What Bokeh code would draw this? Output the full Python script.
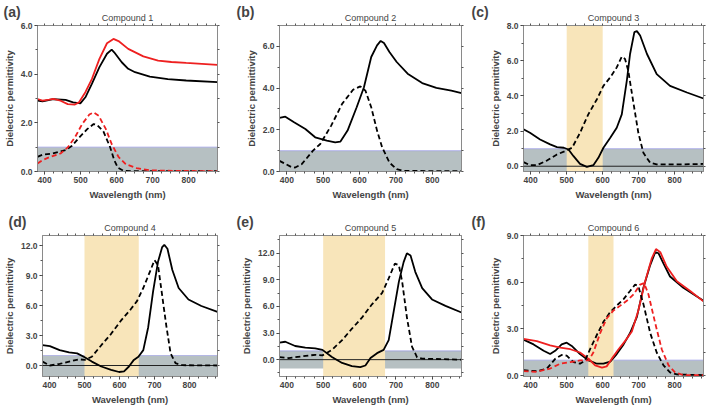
from bokeh.plotting import figure
from bokeh.layouts import column, row
from bokeh.models import (BoxAnnotation, Span, Title, LinearAxis, Range1d,
                          FixedTicker, PrintfTickFormatter)
from bokeh.embed import file_html
from bokeh.resources import INLINE

# ---------------- data ----------------
titles = ["Compound 1", "Compound 2", "Compound 3", "Compound 4", "Compound 5", "Compound 6"]
letters = ["(a)", "(b)", "(c)", "(d)", "(e)", "(f)"]
x_ticks = [400, 500, 600, 700, 800]

# (a) Compound 1
a_wl_re_k = [380, 394, 424, 458, 479, 499, 513, 531, 552, 573, 586, 593, 614, 632, 651, 692, 742, 793, 880]
a_re_k = [2.91, 2.88, 2.97, 2.94, 2.84, 2.80, 3.05, 3.60, 4.29, 4.84, 5.01, 4.90, 4.49, 4.22, 4.08, 3.90, 3.80, 3.74, 3.67]
a_wl_re_r = [380, 394, 412, 424, 444, 464, 484, 495, 513, 531, 552, 573, 591, 605, 632, 674, 715, 752, 793, 880]
a_re_r = [2.98, 2.91, 2.95, 2.98, 2.91, 2.77, 2.75, 2.84, 3.26, 3.80, 4.63, 5.27, 5.45, 5.36, 5.04, 4.73, 4.56, 4.50, 4.46, 4.38]
a_wl_im_k = [380, 394, 421, 458, 476, 496, 518, 536, 545, 563, 582, 593, 603, 619, 650, 750, 880]
a_im_k = [0.60, 0.69, 0.74, 0.88, 1.06, 1.40, 1.74, 1.95, 1.92, 1.65, 0.99, 0.47, 0.16, 0.03, 0.01, 0.01, 0.01]
a_wl_im_r = [380, 394, 412, 444, 464, 484, 504, 524, 536, 550, 570, 586, 605, 625, 655, 692, 742, 880]
a_im_r = [0.33, 0.47, 0.58, 0.74, 0.99, 1.40, 1.95, 2.34, 2.43, 2.29, 1.74, 1.13, 0.60, 0.30, 0.14, 0.05, 0.03, 0.01]

# (b) Compound 2
b_wl_re = [380, 396, 420, 451, 478, 510, 533, 547, 567, 592, 612, 632, 648, 658, 667, 682, 702, 732, 772, 811, 852, 880]
b_re = [2.57, 2.63, 2.36, 2.04, 1.64, 1.48, 1.40, 1.43, 1.96, 3.08, 4.04, 5.49, 6.05, 6.26, 6.16, 5.73, 5.25, 4.69, 4.24, 4.01, 3.88, 3.76]
b_wl_im = [380, 392, 412, 423, 441, 472, 492, 522, 552, 582, 602, 616, 632, 648, 662, 682, 702, 722, 800, 880]
b_im = [0.51, 0.40, 0.22, 0.19, 0.35, 1.00, 1.32, 2.20, 3.24, 3.92, 4.08, 3.88, 3.08, 1.96, 1.16, 0.43, 0.11, 0.03, 0.02, 0.02]

# (c) Compound 3
c_wl_re = [380, 398, 426, 454, 473, 492, 505, 519, 537, 556, 574, 588, 602, 621, 639, 653, 667, 676, 688, 695, 704, 723, 750, 787, 834, 880]
c_re = [2.10, 1.90, 1.52, 1.24, 1.09, 1.05, 0.95, 0.57, 0.13, -0.04, 0.06, 0.48, 1.05, 1.62, 2.19, 2.95, 4.86, 6.38, 7.62, 7.68, 7.43, 6.38, 5.24, 4.57, 4.19, 3.85]
c_wl_im = [380, 398, 417, 445, 473, 496, 515, 537, 560, 584, 602, 621, 639, 653, 662, 671, 686, 699, 713, 732, 750, 800, 880]
c_im = [0.23, 0.06, 0.06, 0.32, 0.67, 0.86, 1.05, 1.90, 2.95, 3.81, 4.57, 5.05, 5.62, 6.23, 6.10, 5.43, 3.52, 1.90, 0.76, 0.19, 0.10, 0.10, 0.13]

# (d) Compound 4
d_wl_re = [380, 401, 429, 456, 479, 498, 521, 548, 576, 599, 613, 627, 641, 654, 668, 682, 696, 710, 722, 728, 737, 751, 769, 797, 834, 880]
d_re = [2.03, 1.93, 1.54, 1.31, 1.21, 0.88, 0.39, -0.10, -0.43, -0.65, -0.59, -0.10, 0.56, 0.88, 1.54, 3.83, 7.42, 10.37, 11.84, 12.07, 11.67, 9.55, 7.75, 6.60, 5.95, 5.36]
d_wl_im = [380, 401, 429, 456, 484, 501, 521, 548, 576, 604, 632, 650, 668, 687, 700, 710, 719, 733, 746, 760, 779, 880]
d_im = [0.39, 0.00, 0.16, 0.39, 0.62, 0.56, 0.88, 2.03, 3.17, 4.48, 5.62, 6.44, 7.75, 9.39, 10.53, 10.04, 7.75, 4.15, 1.21, 0.23, 0.03, 0.00]

# (e) Compound 5
e_wl_re = [380, 396, 423, 451, 478, 498, 524, 552, 579, 602, 616, 630, 648, 666, 680, 694, 708, 721, 730, 740, 753, 772, 799, 836, 880]
e_re = [1.91, 2.02, 1.54, 1.36, 1.28, 1.10, 0.29, -0.37, -0.73, -0.84, -0.66, 0.18, 0.73, 1.10, 2.20, 5.50, 8.80, 11.00, 12.00, 11.74, 9.90, 8.07, 6.79, 6.06, 5.32]
e_wl_im = [380, 405, 441, 478, 498, 524, 552, 579, 607, 634, 662, 680, 697, 708, 717, 730, 744, 758, 772, 880]
e_im = [0.29, 0.18, 0.37, 0.55, 0.48, 1.10, 2.20, 3.49, 4.77, 6.24, 7.52, 9.17, 10.83, 10.64, 8.80, 4.77, 1.47, 0.26, 0.11, 0.00]

# (f) Compound 6
f_wl_re_k = [380, 408, 436, 454, 468, 486, 500, 514, 537, 561, 584, 602, 621, 639, 658, 676, 695, 713, 732, 746, 755, 769, 787, 824, 880]
f_re_k = [2.32, 2.01, 1.60, 1.39, 1.60, 2.01, 2.12, 1.91, 1.39, 0.98, 0.77, 0.77, 0.91, 1.39, 2.01, 2.74, 3.78, 5.64, 7.10, 7.93, 7.86, 7.20, 6.37, 5.64, 4.81]
f_wl_re_r = [380, 417, 454, 482, 510, 537, 561, 579, 598, 611, 625, 644, 662, 681, 699, 718, 736, 748, 760, 778, 806, 843, 880]
f_re_r = [2.37, 2.22, 1.95, 1.80, 1.70, 1.49, 1.08, 0.66, 0.52, 0.60, 1.08, 1.70, 2.22, 2.84, 4.19, 6.06, 7.51, 8.13, 7.93, 6.99, 6.06, 5.44, 4.77]
f_wl_im_k = [380, 417, 445, 468, 486, 500, 519, 537, 551, 565, 584, 602, 621, 639, 658, 676, 690, 699, 713, 732, 750, 769, 787, 806, 880]
f_im_k = [0.35, 0.29, 0.46, 1.08, 1.33, 1.29, 0.87, 0.77, 0.98, 1.70, 2.63, 3.46, 4.09, 4.50, 4.92, 5.44, 5.85, 5.75, 4.61, 2.74, 1.49, 0.66, 0.21, 0.08, 0.04]
f_wl_im_r = [380, 417, 454, 482, 510, 537, 561, 574, 593, 611, 630, 649, 667, 686, 704, 715, 727, 746, 764, 783, 801, 824, 880]
f_im_r = [0.29, 0.25, 0.46, 0.77, 0.87, 0.98, 0.98, 1.49, 2.74, 3.67, 4.19, 4.50, 4.81, 5.23, 5.85, 5.95, 5.23, 3.36, 1.70, 0.66, 0.21, 0.04, 0.04]

# y axes and highlighted windows
y_ranges = [(0, 6), (0, 7), (-0.3, 8), (-1.1, 13), (-1.9, 14), (-0.05, 9)]
y_majors = [[0, 2, 4, 6], [0, 2, 4, 6], [0, 2, 4, 6, 8], [0, 3, 6, 9, 12], [0, 3, 6, 9, 12], [0, 3, 6, 9]]
y_minor_steps = [1, 1, 1, 1.5, 1.5, 1.5]
windows = [None, None, (500, 600), (500, 655), (500, 670), (560, 630)]
band_bottoms = [None, None, None, None, -1, None]
zero_lines = [False, False, True, True, True, False]

series = [
    [(a_wl_re_k, a_re_k, "black", "solid"), (a_wl_re_r, a_re_r, "red", "solid"),
     (a_wl_im_k, a_im_k, "black", "dashed"), (a_wl_im_r, a_im_r, "red", "dashed")],
    [(b_wl_re, b_re, "black", "solid"), (b_wl_im, b_im, "black", "dashed")],
    [(c_wl_re, c_re, "black", "solid"), (c_wl_im, c_im, "black", "dashed")],
    [(d_wl_re, d_re, "black", "solid"), (d_wl_im, d_im, "black", "dashed")],
    [(e_wl_re, e_re, "black", "solid"), (e_wl_im, e_im, "black", "dashed")],
    [(f_wl_re_k, f_re_k, "black", "solid"), (f_wl_re_r, f_re_r, "red", "solid"),
     (f_wl_im_k, f_im_k, "black", "dashed"), (f_wl_im_r, f_im_r, "red", "dashed")],
]

# ---------------- styling / layout ----------------
FONT = "Liberation Sans"
GRAY_BAND = "#b6c0c2"
YELLOW = "#f8e5ba"
FRAME = "#8a8a8a"
RED = "#ee2020"
col_left = [35, 44, 53]
col_right = [18, 9, 5]
col_frame_w = [182, 182, 180]
row_top = [25, 25]
row_frame_h = [146, 143]
row_bottom = [39, 29]
X_MINOR = list(range(375, 900, 25))


def style_axis(ax):
    ax.axis_line_color = FRAME
    ax.major_tick_line_color = "#333333"
    ax.minor_tick_line_color = "#555555"
    ax.major_tick_out = 3
    ax.major_tick_in = 0
    ax.minor_tick_out = 2
    ax.minor_tick_in = 0
    ax.major_label_text_font = FONT
    ax.major_label_text_font_style = "bold"
    ax.major_label_text_font_size = "8.5px"
    ax.major_label_standoff = 2
    ax.axis_label_text_font = FONT
    ax.axis_label_text_font_style = "bold"
    ax.axis_label_text_font_size = "9.5px"
    ax.axis_label_standoff = 3


figs = []
for i in range(6):
    r, c = divmod(i, 3)
    w = col_left[c] + col_frame_w[c] + col_right[c]
    h = row_top[r] + row_frame_h[r] + row_bottom[r]
    y0, y1 = y_ranges[i]
    p = figure(width=w, height=h, output_backend="svg", toolbar_location=None,
               x_range=Range1d(380, 880), y_range=Range1d(y0, y1),
               min_border_left=col_left[c], min_border_right=col_right[c],
               min_border_top=row_top[r], min_border_bottom=row_bottom[r])
    p.grid.visible = False
    p.outline_line_color = FRAME
    p.background_fill_color = "white"

    step = y_minor_steps[i]
    y_minor = []
    v = -3.0
    while v <= y1 + 0.01:
        y_minor.append(round(v, 2))
        v += step

    p.xaxis.ticker = FixedTicker(ticks=x_ticks, minor_ticks=X_MINOR)
    p.yaxis.ticker = FixedTicker(ticks=y_majors[i], minor_ticks=y_minor)
    p.yaxis.formatter = PrintfTickFormatter(format="%.1f")
    p.xaxis.axis_label = "Wavelength (nm)"
    p.yaxis.axis_label = "Dielectric permittivity"
    style_axis(p.xaxis[0])
    style_axis(p.yaxis[0])

    # mirrored tick marks on top and right (no labels)
    top_ax = LinearAxis(ticker=FixedTicker(ticks=[], minor_ticks=sorted(set(X_MINOR) | set(x_ticks))))
    right_ax = LinearAxis(ticker=FixedTicker(ticks=[], minor_ticks=sorted(set(y_minor) | set(y_majors[i]))))
    for ax in (top_ax, right_ax):
        style_axis(ax)
        ax.major_tick_out = 2
    p.add_layout(top_ax, "above")
    p.add_layout(right_ax, "right")

    # titles: compound name (centred) and panel letter (left, overlapping vertically)
    p.add_layout(Title(text=titles[i], align="center", text_font=FONT,
                       text_font_size="9px", text_font_style="normal", standoff=2), "above")
    p.add_layout(Title(text=letters[i], align="left", offset=-(col_left[c] - 1),
                       text_font=FONT, text_font_size="14px", text_font_style="bold",
                       standoff=-20), "above")

    # gray band (epsilon between -1/0 and 1)
    p.add_layout(BoxAnnotation(bottom=band_bottoms[i], top=1, fill_color=GRAY_BAND,
                               fill_alpha=1, line_color=None, level="underlay"))
    p.add_layout(Span(location=1, dimension="width", line_color="#8f8fe8",
                      line_dash="1 1", line_width=1.2, level="underlay"))
    if windows[i] is not None:
        p.add_layout(BoxAnnotation(left=windows[i][0], right=windows[i][1],
                                   fill_color=YELLOW, fill_alpha=1, line_color=None,
                                   level="underlay"))
    if zero_lines[i]:
        p.add_layout(Span(location=0, dimension="width", line_color="#222222",
                          line_width=1, level="underlay"))

    for xs, ys, colr, dash in series[i]:
        p.line(xs, ys, line_color=RED if colr == "red" else "black",
               line_width=1.8, line_dash=("5 3" if dash == "dashed" else "solid"))

    figs.append(p)

layout = column(row(*figs[:3]), row(*figs[3:]))
open("out.html", "w").write(file_html(layout, INLINE))
